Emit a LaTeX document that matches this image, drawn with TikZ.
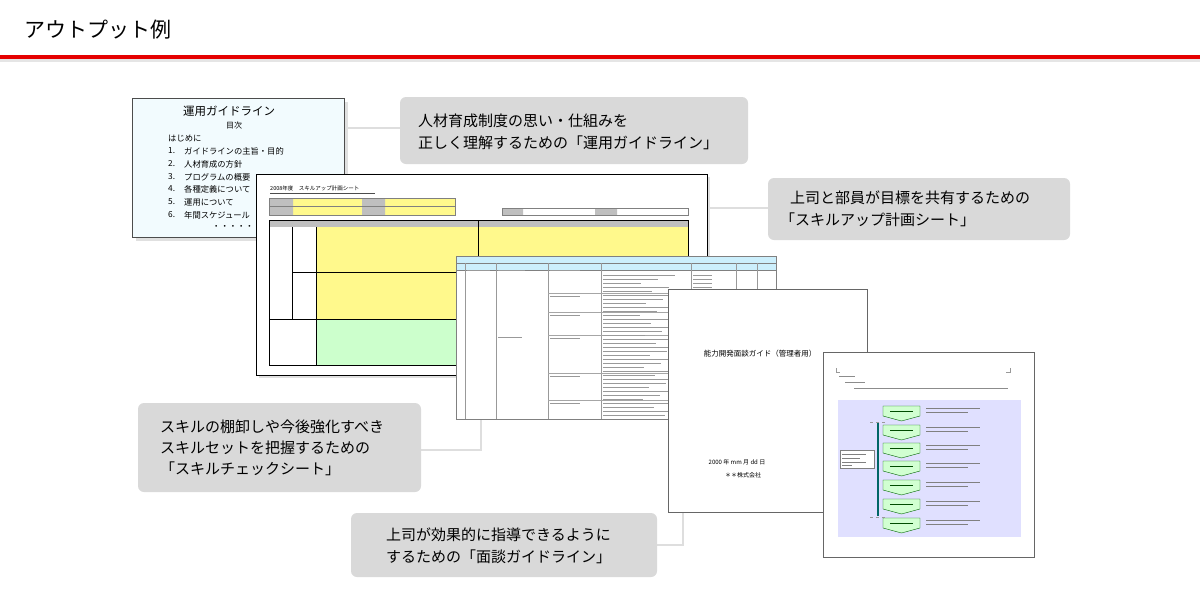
\documentclass[tikz,border=0pt]{standalone}
\usepackage{fontspec}
\setmainfont{Noto Sans CJK JP}
\begin{document}
\begin{tikzpicture}[x=1pt,y=-1pt,
  callout/.style={fill=black!15,rounded corners=6pt,draw=none},
  conn/.style={draw=black!13,line width=2.5pt},
  txt/.style={font=\fontsize{15}{19}\selectfont,anchor=west,inner sep=0pt},
  small/.style={font=\fontsize{8.3}{10}\selectfont,anchor=west,inner sep=0pt},
  doc/.style={draw=black!60,fill=white,line width=0.6pt},
  gchev/.style={fill=green!18,draw=green!40!black,line width=0.4pt}]
\useasboundingbox (0,0) rectangle (1200,600);
\fill[white] (0,0) rectangle (1200,600);
% title
\node[anchor=west,inner sep=0pt,font=\fontsize{21}{24}\selectfont] (title) at (24,30) {アウトプット例};
\fill[black!10] (0,59) rectangle (1200,62);
\fill[red!90!black] (0,55) rectangle (1200,59);
% connectors
\coordinate (c3a) at (481,450);
\coordinate (c4a) at (683,545);
\draw[conn] (344,128) -- (400,128);
\draw[conn] (707,208) -- (768,208);
\draw[conn] (481,419) -- (c3a) -- (421,450);
\draw[conn] (683,512) -- (c4a) -- (657,545);
% callouts
\path[callout] (400,97) rectangle (748,164);
\node[txt] (t1a) at (418,121) {人材育成制度の思い・仕組みを};
\node[txt] (t1b) at (418,143) {正しく理解するための「運用ガイドライン」};
\path[callout] (768,178) rectangle (1070,240);
\node[txt] (t2a) at (790,198) {上司と部員が目標を共有するための};
\node[txt] (t2b) at (780,220) {「スキルアップ計画シート」};
\path[callout] (138,403) rectangle (421,492);
\node[txt] (t3a) at (160,427) {スキルの棚卸しや今後強化すべき};
\node[txt] (t3b) at (160,448) {スキルセットを把握するための};
\node[txt] (t3c) at (160,469) {「スキルチェックシート」};
\path[callout] (351,513) rectangle (657,577);
\node[txt] (t4a) at (386,535) {上司が効果的に指導できるように};
\node[txt] (t4b) at (386,557) {するための「面談ガイドライン」};
% doc1
\fill[black!12] (136,102) rectangle (348,241);
\draw[fill=cyan!5,draw=black!70,line width=0.6pt] (132,98) rectangle (344,237);
\node[font=\fontsize{11.5}{13}\selectfont,inner sep=0pt] (d1t) at (229,111) {運用ガイドライン};
\node[font=\fontsize{8}{9}\selectfont,inner sep=0pt] (d1m) at (234,125) {目次};
\node[small] at (168,138) {はじめに};
\foreach \y/\n/\s in {151/1./ガイドラインの主旨・目的,164/2./人材育成の方針,177/3./プログラムの概要,189/4./各種定義について,202/5./運用について,215/6./年間スケジュール}{
  \node[small] at (168,\y) {\n};
  \node[small] at (184,\y) {\s};}
\node[small] at (212,227) {・・・・・・};
% doc2
\fill[black!12] (259,177) rectangle (710,378);
\draw[fill=white,draw=black,line width=1pt] (256,174) rectangle (707,375);
\draw[black!70,line width=0.4pt] (270,193) -- (375,193);
\node[anchor=west,inner sep=0pt,font=\fontsize{5.5}{6}\selectfont] at (270,188) {2008年度　スキルアップ計画シート};
\fill[yellow!45] (293,198) rectangle (362,215) (385,198) rectangle (455,215);
\fill[black!25] (269,198) rectangle (293,215) (362,198) rectangle (385,215);
\draw[black!50,line width=0.4pt] (269,198) rectangle (455,215) (269,206.5) -- (455,206.5);
\fill[black!25] (502,208) rectangle (523,215) (595,208) rectangle (617,215);
\draw[black!50,line width=0.4pt] (502,208) rectangle (688,215);
\fill[yellow!45] (316,227) rectangle (688,319);
\fill[green!20] (316,319) rectangle (688,365);
\fill[black!25] (269,220) rectangle (688,227);
\draw[black,line width=0.6pt] (269,220) rectangle (688,365);
\draw[black,line width=0.5pt] (269,319) -- (688,319) (292,227) -- (292,319) (316,227) -- (316,365) (478,220) -- (478,319) (292,272) -- (688,272);
% doc3
\draw[doc] (456,256) rectangle (776,419);
\fill[cyan!20] (456,256) rectangle (776,270);
\draw[black!50,line width=0.4pt] (456,256) rectangle (776,419) (456,263) -- (776,263) (456,270) -- (776,270);
\foreach \x in {465,496,548,601,691,736,757}{\draw[black!40,line width=0.4pt] (\x,263) -- (\x,419);}
\foreach \y in {293,312,335,373,400}{\draw[black!35,line width=0.4pt] (548,\y) -- (691,\y);}
\foreach \y in {275,279,...,415}{\pgfmathsetmacro\xe{640+mod(\y*7,45)}\draw[black!40,line width=0.5pt] (603,\y) -- (\xe,\y);}
\foreach \y in {275,279,...,303}{\draw[black!40,line width=0.5pt] (693,\y) -- (712,\y);}
\foreach \y in {267,293,312,335,373,400}{\draw[black!40,line width=0.5pt] (550,\y+3) -- (580,\y+3);}
\draw[black!40,line width=0.5pt] (498,270) -- (525,270) (498,337) -- (522,337) (467,270) -- (490,270);
% doc4
\draw[doc] (668,289) rectangle (867,512);
\node[inner sep=0pt,font=\fontsize{7.5}{8}\selectfont] (d4t) at (760,354) {能力開発面談ガイド（管理者用）};
\node[inner sep=0pt,font=\fontsize{6}{7}\selectfont] (d4d) at (737,462) {2000 年 mm 月 dd 日};
\node[inner sep=0pt,font=\fontsize{6}{7}\selectfont] (d4c) at (743,475) {＊＊株式会社};
% doc5
\draw[doc] (823,352) rectangle (1034,557);
\draw[black!40,line width=0.4pt] (836,368) -- (836,372) -- (840,372) (1010,368) -- (1010,372) -- (1006,372);
\draw[black!45,line width=0.5pt] (839,376) -- (855,376) (845,382) -- (865,382) (854,388) -- (1008,388);
\fill[blue!12] (838,400) rectangle (1021,537);
\foreach \i/\y in {1/413,2/432,3/450,4/468,5/487,6/506,7/525}{
  \draw[gchev] (883,\y-7) -- (920,\y-7) -- (920,\y+3) -- (901.5,\y+8) -- (883,\y+3) -- cycle;
  \draw[green!30!black,line width=0.4pt] (890,\y-2) -- (913,\y-2);
  \draw[black!50,line width=0.5pt] (926,\y-5) -- (980,\y-5) (926,\y-1) -- (968,\y-1);}
\draw[black!40,dashed,line width=0.3pt] (870,422) -- (886,422) (870,517) -- (886,517);
\draw[teal!80!black,line width=1.5pt] (878,423) -- (878,516);
\draw[fill=white,draw=black!50,line width=0.4pt] (840,450) rectangle (874,468);
\draw[black!50,line width=0.4pt] (842,454) -- (866,454) (842,458) -- (860,458) (842,462) -- (866,462) (842,465) -- (852,465);
\end{tikzpicture}
\end{document}
